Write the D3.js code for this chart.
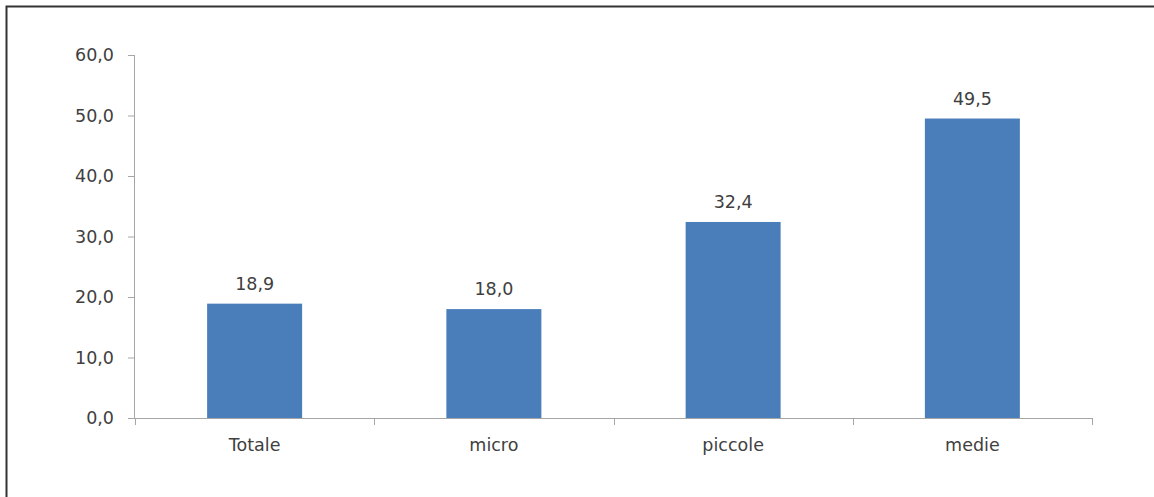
<!DOCTYPE html>
<html><head><meta charset="utf-8">
<script src="https://cdn.jsdelivr.net/npm/d3@7"></script>
<style>html,body{margin:0;padding:0;background:#fff;}svg{display:block;}</style>
</head><body>
<script>
const categories = ["Totale", "micro", "piccole", "medie"];
const values = [18.9, 18.0, 32.4, 49.5];
const yTicks = [0, 10, 20, 30, 40, 50, 60];

const W = 1154, H = 497;
const svg = d3.select("body").append("svg").attr("width", W).attr("height", H);
svg.append("path").attr("d", `M6.5,${H} V6.5 H${W}`).attr("fill","none").attr("stroke","#333").attr("stroke-width",2);

const x0 = 135, x1 = 1092, yTop = 55, yBot = 418;
const xb = d3.scaleBand().domain(categories).range([x0, x1]);
const y = d3.scaleLinear().domain([0, 60]).range([yBot, yTop]);
const fmt = v => v.toFixed(1).replace(".", ",");
const font = "'DejaVu Sans', sans-serif";
const fs = 17.5;
const txt = "#404040";
const axisColor = "#a6a6a6";

// y axis
const ya = svg.append("g").attr("transform", `translate(${x0},0)`)
  .call(d3.axisLeft(y).tickValues(yTicks).tickSize(7).tickPadding(14).tickFormat(fmt));
ya.select(".domain").attr("stroke", axisColor).attr("d", `M-0.5,${yTop}V${yBot}`);
ya.selectAll(".tick line").attr("stroke", axisColor);
ya.selectAll("text").attr("font-family", font).attr("font-size", fs).attr("fill", txt);

// x axis
const xg = svg.append("g");
xg.append("line").attr("x1", x0).attr("x2", x1).attr("y1", yBot + 0.5).attr("y2", yBot + 0.5).attr("stroke", axisColor);
const bounds = [x0, ...categories.map(c => xb(c) + xb.bandwidth())];
xg.selectAll("line.t").data(bounds).enter().append("line").attr("class","t")
  .attr("x1", d => Math.round(d) + 0.5).attr("x2", d => Math.round(d) + 0.5)
  .attr("y1", yBot).attr("y2", yBot + 7).attr("stroke", axisColor);
xg.selectAll("text").data(categories).enter().append("text")
  .attr("x", d => xb(d) + xb.bandwidth() / 2).attr("y", 451)
  .attr("text-anchor", "middle").attr("font-family", font).attr("font-size", fs).attr("fill", txt)
  .text(d => d);

// bars
const barW = 95;
svg.selectAll("rect.bar").data(values).enter().append("rect").attr("class","bar")
  .attr("x", (d, i) => xb(categories[i]) + xb.bandwidth() / 2 - barW / 2)
  .attr("width", barW)
  .attr("y", d => y(d)).attr("height", d => yBot - y(d))
  .attr("fill", "#4a7ebb");

svg.selectAll("text.lbl").data(values).enter().append("text").attr("class","lbl")
  .attr("x", (d, i) => xb(categories[i]) + xb.bandwidth() / 2)
  .attr("y", d => y(d) - 14)
  .attr("text-anchor", "middle").attr("font-family", font).attr("font-size", fs).attr("fill", txt)
  .text(fmt);
</script>
</body></html>
